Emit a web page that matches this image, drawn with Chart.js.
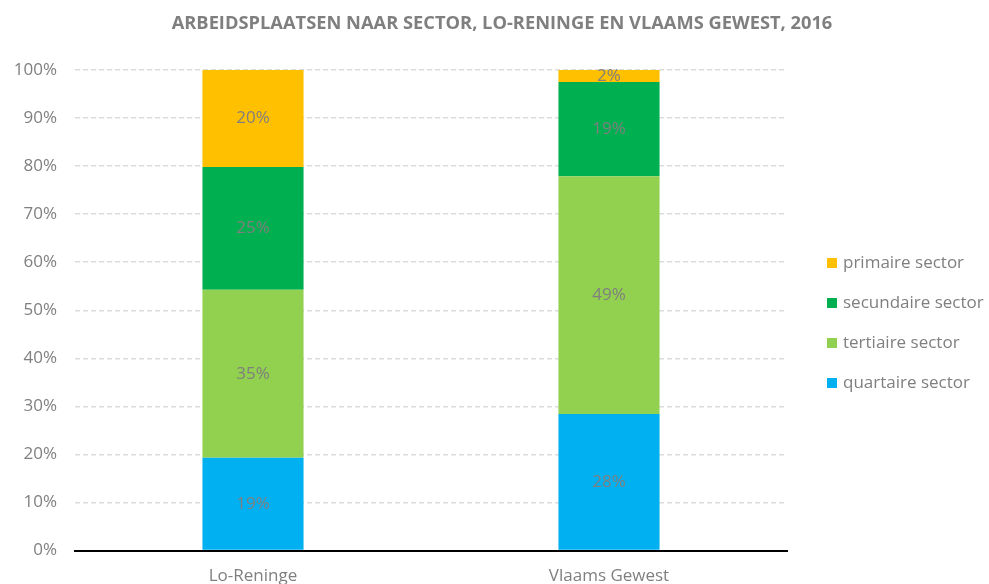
<!DOCTYPE html>
<html>
<head>
<meta charset="utf-8">
<script src="https://cdn.jsdelivr.net/npm/chart.js@4/dist/chart.umd.min.js"></script>
<style>
  html, body { margin: 0; padding: 0; background: #fff; overflow: hidden; }
  #wrap { position: relative; width: 989px; height: 593px; }
  #title {
    position: absolute; left: 0; width: 1004px; top: 9px; text-align: center;
    font: bold 18.3px "Open Sans", sans-serif; color: #7f7f7f;
  }
  #legend { position: absolute; left: 827px; top: 250px; font: 17px "Open Sans", sans-serif; color: #7f7f7f; }
  #legend div { height: 40px; line-height: 24px; white-space: nowrap; }
  #legend span { display: inline-block; width: 10px; height: 10px; margin-right: 6px; vertical-align: 0px; }
</style>
</head>
<body>
<div id="wrap">
  <canvas id="chart" width="989" height="593"></canvas>
  <div id="title">ARBEIDSPLAATSEN NAAR SECTOR, LO-RENINGE EN VLAAMS GEWEST, 2016</div>
  <div id="legend"></div>
</div>
<script>
// categorieën en aandelen (%) per sector
const categories = ["Lo-Reninge", "Vlaams Gewest"];
const quartaire = [19.3, 28.4];
const tertiaire = [35.0, 49.5];
const secundaire = [25.5, 19.6];
const primaire = [20.2, 2.5];
const yTicks = [0, 10, 20, 30, 40, 50, 60, 70, 80, 90, 100];

const series = [
  { label: "quartaire sector", data: quartaire, color: "#00B0F0" },
  { label: "tertiaire sector", data: tertiaire, color: "#92D050" },
  { label: "secundaire sector", data: secundaire, color: "#00B050" },
  { label: "primaire sector", data: primaire, color: "#FFC000" },
];

// legende (omgekeerde volgorde zoals in Excel)
const legend = document.getElementById("legend");
series.slice().reverse().forEach((s) => {
  const row = document.createElement("div");
  row.innerHTML = `<span style="background:${s.color}"></span>${s.label}`;
  legend.appendChild(row);
});

const barLabels = {
  id: "barLabels",
  afterDatasetsDraw(chart) {
    const ctx = chart.ctx;
    ctx.save();
    ctx.font = '17px "Open Sans", sans-serif';
    ctx.fillStyle = "#7f7f7f";
    ctx.textAlign = "center";
    ctx.textBaseline = "middle";
    chart.data.datasets.forEach((ds, i) => {
      chart.getDatasetMeta(i).data.forEach((bar, j) => {
        const y = (bar.y + bar.base) / 2;
        ctx.fillText(Math.floor(ds.data[j]) + "%", bar.x, y);
      });
    });
    ctx.restore();
  },
};

new Chart(document.getElementById("chart"), {
  type: "bar",
  data: {
    labels: categories,
    datasets: series.map((s) => ({
      label: s.label,
      data: s.data,
      backgroundColor: s.color,
      borderWidth: 0,
      categoryPercentage: 1,
      barPercentage: 0.284,
    })),
  },
  options: {
    responsive: false,
    animation: false,
    layout: { padding: { top: 70, right: 202, left: 0, bottom: 0 } },
    plugins: { legend: { display: false }, tooltip: { enabled: false } },
    scales: {
      x: {
        stacked: true,
        grid: { display: false },
        border: { color: "#000", width: 2 },
        ticks: { color: "#7f7f7f", font: { family: "Open Sans", size: 17 }, padding: 7 },
      },
      y: {
        stacked: true,
        min: 0,
        max: 100,
        afterBuildTicks(axis) { axis.ticks = yTicks.map((v) => ({ value: v })); },
        afterFit(axis) { axis.width = 75; },
        grid: {
          drawTicks: false,
          color: (c) => (c.tick && c.tick.value === 0 ? "rgba(0,0,0,0)" : "#dcdcdc"),
          lineWidth: 1.5,
        },
        border: { display: false, dash: [5, 3] },
        ticks: {
          color: "#7f7f7f",
          font: { family: "Open Sans", size: 17 },
          padding: 18,
          callback: (v) => v + "%",
        },
      },
    },
  },
  plugins: [barLabels],
});
</script>
</body>
</html>
